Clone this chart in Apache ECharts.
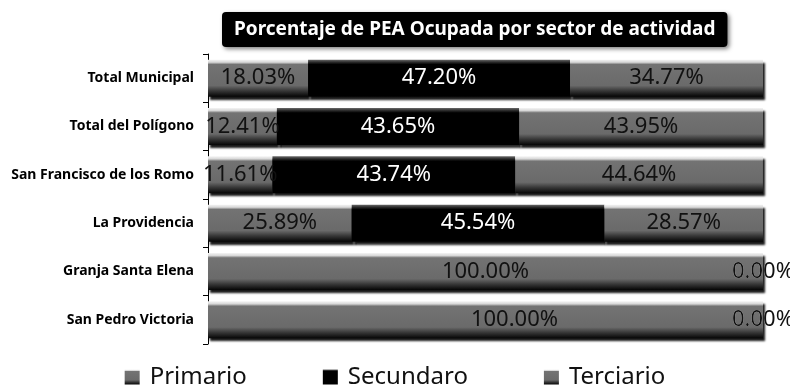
<!DOCTYPE html>
<html>
<head>
<meta charset="utf-8">
<script src="https://cdn.jsdelivr.net/npm/echarts@6/dist/echarts.min.js"></script>
<style>
  html, body { margin: 0; padding: 0; background: #ffffff; }
  #chart { width: 790px; height: 389px; }
</style>
</head>
<body>
<div id="chart"></div>
<script>
// Localidades (de arriba hacia abajo)
const categories = [
  'Total Municipal',
  'Total del Polígono',
  'San Francisco de los Romo',
  'La Providencia',
  'Granja Santa Elena',
  'San Pedro Victoria'
];

// Porcentaje de PEA ocupada por sector
const primario   = [18.03, 12.41, 11.61, 25.89, 100.00, 100.00];
const secundario = [47.20, 43.65, 43.74, 45.54, 0.00, 0.00];
const terciario  = [34.77, 43.95, 44.64, 28.57, 0.00, 0.00];

const seriesNames = ['Primario', 'Secundaro', 'Terciario'];
const titleText = 'Porcentaje de PEA Ocupada por sector de actividad';

const FONT = '"Noto Sans", "Open Sans", sans-serif';

// Relleno con bisel: brillo arriba, sombra abajo
function grayBevel() {
  return new echarts.graphic.LinearGradient(0, 0, 0, 1, [
    { offset: 0.00, color: '#f4f4f4' },
    { offset: 0.07, color: '#d8d8d8' },
    { offset: 0.13, color: '#737373' },
    { offset: 0.70, color: '#6a6a6a' },
    { offset: 0.84, color: '#383838' },
    { offset: 1.00, color: '#050505' }
  ]);
}
function blackBevel() {
  return new echarts.graphic.LinearGradient(0, 0, 0, 1, [
    { offset: 0.00, color: '#6a6a6a' },
    { offset: 0.07, color: '#2a2a2a' },
    { offset: 0.13, color: '#000000' },
    { offset: 1.00, color: '#000000' }
  ]);
}

function pctLabel(p) { return p.value.toFixed(2) + '%'; }

function makeSeries(name, values, fill, textColor, extraLabel) {
  return {
    name: name,
    type: 'bar',
    stack: 'total',
    barWidth: 37,
    data: values.map((v, i) => {
      const d = { value: v };
      if (extraLabel && extraLabel[i]) d.label = extraLabel[i];
      return d;
    }),
    itemStyle: {
      color: fill,
      shadowColor: 'rgba(0,0,0,0.9)',
      shadowBlur: 2,
      shadowOffsetX: 2,
      shadowOffsetY: 3
    },
    label: {
      show: true,
      position: 'inside',
      formatter: pctLabel,
      fontFamily: FONT,
      fontSize: 22,
      color: textColor
    },
    emphasis: { disabled: true }
  };
}

const chart = echarts.init(document.getElementById('chart'), null, { renderer: 'canvas' });

chart.setOption({
  animation: false,
  backgroundColor: '#ffffff',
  title: {
    text: titleText,
    left: 222,
    top: 12,
    padding: [6, 12, 6, 12],
    backgroundColor: '#000000',
    borderRadius: 4,
    shadowColor: 'rgba(0,0,0,0.5)',
    shadowBlur: 4,
    shadowOffsetX: 2,
    shadowOffsetY: 2,
    textStyle: {
      color: '#ffffff',
      fontFamily: FONT,
      fontWeight: 'bold',
      fontSize: 19,
      lineHeight: 23
    }
  },
  legend: {
    data: seriesNames,
    bottom: -5,
    left: 'center',
    itemWidth: 15,
    itemHeight: 15,
    itemGap: 76,
    icon: 'rect',
    textStyle: { fontFamily: FONT, fontSize: 24, color: '#111111', padding: [0, 0, 0, 5] }
  },
  grid: { left: 208, right: 27, top: 54, bottom: 45, containLabel: false },
  xAxis: {
    type: 'value',
    min: 0,
    max: 100,
    show: false
  },
  yAxis: {
    type: 'category',
    inverse: true,
    data: categories,
    axisLine: { show: true, lineStyle: { color: '#000000', width: 1 } },
    axisTick: { show: true, length: 5, lineStyle: { color: '#000000' } },
    axisLabel: {
      fontFamily: FONT,
      fontWeight: 'bold',
      fontSize: 14,
      color: '#000000',
      margin: 14
    }
  },
  series: [
    makeSeries(seriesNames[0], primario, grayBevel(), '#111111',
      [null, null, null, null, null, { offset: [29, 0] }]),
    makeSeries(seriesNames[1], secundario, blackBevel(), '#ffffff'),
    makeSeries(seriesNames[2], terciario, grayBevel(), '#111111')
  ]
});
</script>
</body>
</html>
